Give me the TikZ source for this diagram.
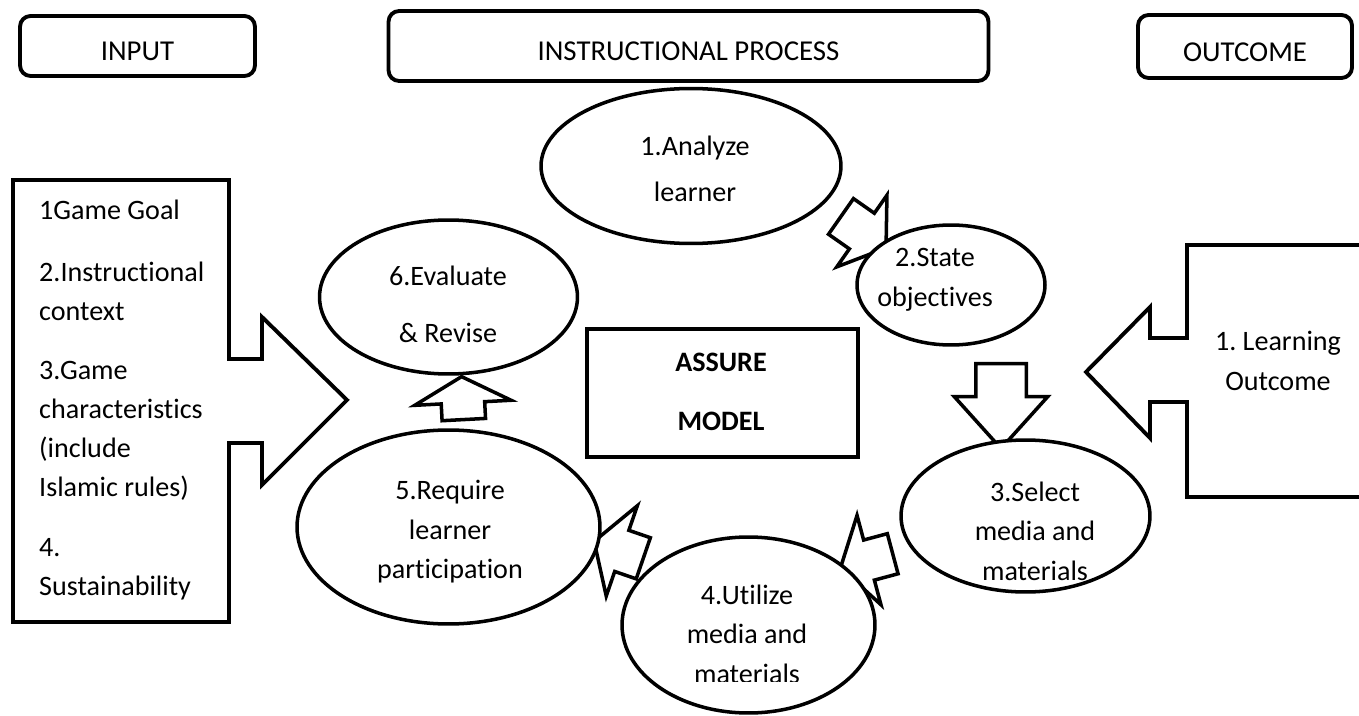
\documentclass[tikz,border=0pt]{standalone}
\usepackage{fontspec}
\setmainfont{Carlito}[Ligatures=NoCommon]
\frenchspacing
\usetikzlibrary{shapes.geometric,shapes.arrows,positioning}
\tikzset{
	headbox/.style={draw, line width=2.2pt, rounded corners=6pt, text height=17pt, text depth=0pt,
		font=\fontsize{16.4}{22}\selectfont},
	stepoval/.style={draw, ellipse, line width=2pt, fill=white, inner sep=0pt},
	steptext/.style={align=center, font=\fontsize{16}{22.5}\selectfont},
	listtext/.style={anchor=west, align=left, font=\fontsize{16}{22.3}\selectfont},
	bigshape/.style={draw, line width=2.2pt, line join=miter},
	blockarrow/.style={draw, single arrow, line width=2pt, fill=white, inner xsep=0pt},
}

\begin{document}
\begin{tikzpicture}[x=0.02cm, y=-0.02cm]
	\useasboundingbox (0,0) rectangle (1359,716);
	\clip (0,0) rectangle (1359,716);
	% headers
	\node[headbox, minimum width=4.7cm, minimum height=1.2cm] (input) at (137.5,46) {INPUT};
	\node[headbox, minimum width=12cm, minimum height=1.4cm] (process) at (688.5,46) {INSTRUCTIONAL PROCESS};
	\node[headbox, minimum width=4.28cm, minimum height=1.26cm] (outcome) at (1245,46.5) {OUTCOME};
%
	% input arrow
	\draw[bigshape] (13,180) -- (229,180) -- (229,359) -- (262,359) -- (262,317) -- (347,400)
		-- (262,485) -- (262,443) -- (229,443) -- (229,622) -- (13,622) -- cycle;
	\node[listtext] (in1) at (33,210) {1Game Goal};
	\node[listtext] (in2) at (33,291) {2.Instructional\\context};
	\node[listtext] (in3) at (33,431) {3.Game\\characteristics\\(include\\Islamic rules)};
	\node[listtext] (in4) at (33,569) {4.\\Sustainability};
%
	% outcome arrow
	\draw[bigshape] (1380,245) -- (1187,245) -- (1187,338) -- (1150,338) -- (1150,307) -- (1086,372)
		-- (1150,438) -- (1150,402) -- (1187,402) -- (1187,497) -- (1380,497);
	\node[steptext] (out1) at (1278,361) {1. Learning\\Outcome};
%
	% block arrows between the steps
	\node[blockarrow, rotate=-35, inner ysep=0.4cm, minimum height=1.1cm, minimum width=1.68cm,
		single arrow head extend=0.44cm, single arrow tip angle=112] (a12) at (857.5,228) {};
	\node[blockarrow, rotate=-90, inner ysep=0.47cm, minimum height=1.7cm, minimum width=1.8cm,
		single arrow head extend=0.43cm, single arrow tip angle=84] (a23) at (1001,392) {};
	\node[blockarrow, rotate=195, inner ysep=0.38cm, minimum height=1.08cm, minimum width=1.78cm,
		single arrow head extend=0.51cm, single arrow tip angle=115] (a34) at (873,559) {};
	\node[blockarrow, rotate=161, inner ysep=0.4cm, minimum height=1.04cm, minimum width=1.84cm,
		single arrow head extend=0.52cm, single arrow tip angle=117] (a45) at (625,552) {};
	\node[blockarrow, rotate=93, inner ysep=0.4cm, minimum height=0.86cm, minimum width=1.86cm,
		single arrow head extend=0.53cm, single arrow tip angle=123] (a56) at (463,404) {};
%
	% steps
	\node[stepoval, minimum width=6cm, minimum height=3.1cm] (s1) at (691,166) {};
	\node[stepoval, minimum width=3.76cm, minimum height=2.4cm] (s2) at (951,285) {};
	\node[stepoval, minimum width=4.98cm, minimum height=3.04cm] (s3) at (1025.5,516) {};
	\node[stepoval, minimum width=5.06cm, minimum height=3.52cm] (s4) at (748.5,625) {};
	\node[stepoval, minimum width=6.06cm, minimum height=3.88cm] (s5) at (448.5,527) {};
	\node[stepoval, minimum width=5.16cm, minimum height=3.08cm] (s6) at (448.5,297) {};
	\node[steptext] (t1) at (695,169) {1.Analyze\\[4pt]learner};
	\node[steptext] (t2) at (935,280) {2.State\\objectives};
	\node[steptext] (t3) at (1035,531) {3.Select\\media and\\materials};
	\node[steptext] (t5) at (450,532) {5.Require\\learner\\participation};
	\node[steptext] (t6) at (448,304) {6.Evaluate\\[10pt]\& Revise};
	\begin{scope}
		\clip (600,570) rectangle (900,681);
		\node[steptext] (t4) at (747,634) {4.Utilize\\media and\\materials};
	\end{scope}
%
	\node[draw, line width=2.2pt, minimum width=5.42cm, minimum height=2.56cm] (assure) at (722.5,393) {};
	\node[align=center, font=\fontsize{16}{34}\selectfont\bfseries] (assuretext) at (721,392) {ASSURE\\MODEL};
\end{tikzpicture}
\end{document}
